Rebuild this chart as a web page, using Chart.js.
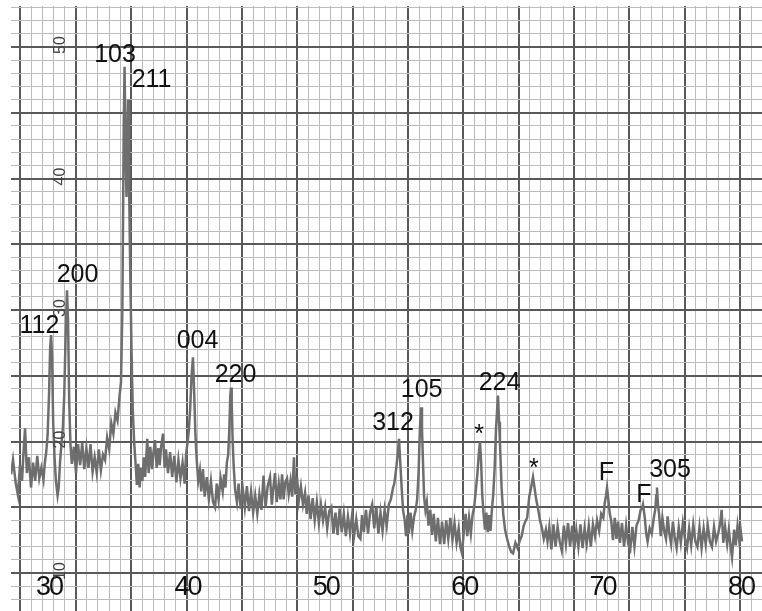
<!DOCTYPE html>
<html>
<head>
<meta charset="utf-8">
<title>XRD pattern</title>
<script src="https://cdn.jsdelivr.net/npm/chart.js@4.4.1/dist/chart.umd.min.js"></script>
<style>
  html, body { margin: 0; padding: 0; background: #fff; }
  #wrap { width: 762px; height: 611px; position: relative; }
</style>
</head>
<body>
<div id="wrap"><canvas id="xrd"></canvas></div>
<script>
// 2-theta (deg)
const twoTheta = [
  27.26, 27.4, 27.6, 27.76, 27.9, 28.05, 28.15, 28.27, 28.4, 28.55, 28.7, 28.85, 29.0, 29.15, 29.3, 29.45, 29.6, 29.7, 29.8, 29.9,
  30.0, 30.08, 30.15, 30.22, 30.3, 30.4, 30.5, 30.62, 30.7, 30.8, 30.9, 31.0, 31.1, 31.2, 31.3, 31.38, 31.46, 31.55, 31.65, 31.8,
  31.95, 32.1, 32.25, 32.4, 32.55, 32.7, 32.85, 33.0, 33.15, 33.3, 33.45, 33.6, 33.75, 33.9, 34.05, 34.2, 34.35, 34.5, 34.65, 34.8,
  34.95, 35.1, 35.2, 35.3, 35.4, 35.46, 35.53, 35.6, 35.65, 35.71, 35.78, 35.87, 35.96, 36.05, 36.15, 36.25, 36.35, 36.45, 36.55, 36.65,
  36.75, 36.85, 36.95, 37.1, 37.2, 37.32, 37.45, 37.55, 37.66, 37.78, 37.9, 38.0, 38.1, 38.24, 38.35, 38.45, 38.6, 38.75, 38.9, 39.05,
  39.2, 39.35, 39.5, 39.65, 39.8, 39.9, 40.0, 40.1, 40.2, 40.3, 40.4, 40.48, 40.58, 40.68, 40.78, 40.9, 41.0, 41.12, 41.25, 41.4,
  41.55, 41.7, 41.85, 42.0, 42.12, 42.25, 42.4, 42.55, 42.65, 42.75, 42.85, 42.95, 43.03, 43.1, 43.15, 43.2, 43.27, 43.35, 43.45, 43.58,
  43.7, 43.85, 44.0, 44.15, 44.3, 44.45, 44.6, 44.75, 44.9, 45.05, 45.2, 45.35, 45.5, 45.65, 45.8, 45.97, 46.1, 46.2, 46.33, 46.45,
  46.6, 46.72, 46.84, 46.95, 47.07, 47.2, 47.32, 47.45, 47.57, 47.7, 47.8, 47.92, 48.05, 48.2, 48.35, 48.5, 48.62, 48.75, 48.9, 49.05,
  49.2, 49.35, 49.5, 49.65, 49.8, 49.95, 50.1, 50.25, 50.4, 50.55, 50.7, 50.85, 51.0, 51.15, 51.3, 51.45, 51.6, 51.75, 51.9, 52.05,
  52.2, 52.35, 52.5, 52.62, 52.75, 52.9, 53.05, 53.2, 53.35, 53.5, 53.65, 53.8, 53.95, 54.1, 54.25, 54.4, 54.55, 54.7, 54.86, 54.95,
  55.07, 55.17, 55.29, 55.38, 55.48, 55.58, 55.7, 55.8, 55.9, 56.0, 56.12, 56.25, 56.38, 56.5, 56.6, 56.7, 56.8, 56.88, 56.95, 57.02,
  57.1, 57.2, 57.3, 57.42, 57.55, 57.68, 57.8, 57.95, 58.1, 58.25, 58.4, 58.55, 58.7, 58.85, 59.0, 59.15, 59.3, 59.45, 59.6, 59.72,
  59.84, 59.96, 60.1, 60.22, 60.35, 60.48, 60.6, 60.72, 60.85, 60.95, 61.05, 61.14, 61.22, 61.3, 61.4, 61.5, 61.6, 61.7, 61.8, 61.9,
  62.0, 62.1, 62.2, 62.3, 62.44, 62.52, 62.58, 62.7, 62.82, 62.95, 63.1, 63.25, 63.4, 63.53, 63.7, 63.85, 64.03, 64.15, 64.3, 64.45,
  64.55, 64.7, 64.85, 64.97, 65.08, 65.2, 65.35, 65.48, 65.62, 65.75, 65.9, 66.02, 66.15, 66.3, 66.45, 66.6, 66.75, 66.9, 67.05, 67.2,
  67.35, 67.5, 67.65, 67.8, 67.95, 68.1, 68.25, 68.4, 68.55, 68.7, 68.85, 69.0, 69.15, 69.3, 69.45, 69.6, 69.75, 69.9, 70.05, 70.15,
  70.25, 70.32, 70.42, 70.52, 70.62, 70.75, 70.88, 71.0, 71.12, 71.25, 71.4, 71.55, 71.7, 71.85, 72.0, 72.15, 72.3, 72.45, 72.6, 72.75,
  72.85, 72.92, 73.05, 73.15, 73.25, 73.4, 73.55, 73.7, 73.8, 73.88, 73.93, 74.0, 74.08, 74.2, 74.32, 74.45, 74.58, 74.7, 74.82, 74.95,
  75.08, 75.2, 75.35, 75.5, 75.65, 75.8, 75.95, 76.1, 76.25, 76.4, 76.55, 76.7, 76.85, 77.0, 77.15, 77.3, 77.45, 77.6, 77.75, 77.9,
  78.05, 78.2, 78.35, 78.5, 78.6, 78.72, 78.85, 79.0, 79.12, 79.25, 79.35, 79.5, 79.62, 79.75, 79.88, 79.98, 80.07
];

// intensity in the paper's own units (the 10..50 scale printed on the chart)
const intensity = [
  17.5, 18.6, 16.8, 15.9, 18.2, 17.0, 19.0, 21.0, 17.6, 18.8, 16.5, 18.4, 17.0, 18.9, 17.2, 18.0, 17.1, 18.4, 19.2, 20.5,
  23.5, 27.0, 28.1, 26.5, 21.5, 18.8, 17.0, 15.9, 16.5, 18.5, 19.8, 21.0, 23.5, 28.0, 31.5, 29.0, 23.0, 19.8, 18.3, 19.6,
  17.6, 19.8, 18.2, 19.9, 17.9, 19.5, 18.0, 19.8, 17.7, 18.8, 17.6, 19.4, 17.8, 19.0, 18.6, 20.3, 19.4, 21.4, 20.6, 22.2,
  21.6, 23.5, 24.5, 30.0, 44.0, 48.5, 42.0, 38.6, 42.0, 46.0, 40.0, 33.0, 27.0, 22.5, 20.0, 18.4, 16.7, 18.3, 16.5, 18.0,
  17.0, 18.8, 17.3, 20.2, 17.6, 19.6, 17.9, 19.2, 20.1, 18.0, 19.5, 18.2, 19.6, 20.6, 18.0, 19.4, 17.6, 19.2, 17.3, 18.9,
  16.9, 18.6, 17.2, 18.4, 16.8, 19.0, 19.8, 20.8, 22.5, 25.0, 26.4, 24.0, 20.5, 18.5, 17.0, 17.8, 16.2, 17.9, 15.8, 17.3,
  15.6, 17.0, 15.4, 15.0, 16.8, 15.6, 17.2, 16.2, 17.5, 16.5, 18.4, 19.0, 21.0, 23.5, 24.1, 23.0, 20.0, 18.0, 16.3, 15.4,
  16.8, 14.9, 16.4, 15.0, 16.6, 14.7, 16.2, 14.6, 15.9, 14.5, 16.0, 14.8, 17.4, 15.0, 16.6, 17.3, 15.2, 16.4, 17.6, 15.4,
  16.8, 15.6, 17.5, 15.6, 16.9, 17.2, 16.0, 17.0, 15.8, 18.8, 16.0, 17.3, 15.5, 16.6, 15.2, 16.1, 14.5, 15.9, 14.1, 15.7,
  14.0, 15.4, 13.8, 15.2, 14.0, 15.0, 13.4, 14.7, 15.0, 13.0, 14.6, 12.9, 14.9, 13.1, 14.5, 12.8, 14.3, 13.0, 14.4, 12.9,
  14.1, 12.8, 12.6, 14.4, 13.1, 14.8, 13.0, 14.6, 15.2, 13.4, 15.0, 13.0, 14.6, 13.2, 14.8, 13.6, 15.2, 15.6, 16.5, 16.8,
  17.8, 18.8, 20.2, 18.4, 16.5, 14.8, 14.0, 12.8, 14.4, 13.0, 14.6, 13.2, 14.3, 14.8, 15.6, 17.5, 21.0, 22.6, 21.0, 18.5,
  15.8, 14.8, 15.4, 13.6, 14.8, 12.9, 14.5, 12.4, 14.2, 12.2, 13.9, 12.2, 14.0, 12.6, 14.2, 12.5, 13.8, 12.3, 13.4, 12.0,
  11.5, 13.0, 14.5, 12.8, 14.2, 13.0, 14.4, 15.0, 16.4, 17.5, 19.0, 20.0, 18.5, 16.0, 14.5, 13.3, 14.6, 13.1, 14.4, 13.2,
  14.8, 16.0, 18.0, 21.0, 23.5, 21.5, 20.0, 16.5, 14.5, 13.3, 12.6, 12.0, 11.6, 11.5, 12.3, 11.9, 12.5, 12.8, 13.6, 14.0,
  14.2, 15.8, 16.6, 17.3, 16.5, 15.6, 14.8, 14.0, 13.4, 12.6, 13.3, 12.4, 13.5, 11.8, 13.7, 12.0, 13.5, 12.4, 11.7, 13.6,
  12.2, 13.8, 12.0, 13.6, 11.8, 13.3, 12.0, 13.7, 11.9, 13.4, 12.2, 13.6, 12.0, 13.7, 12.8, 14.0, 13.2, 14.5, 14.2, 15.3,
  15.9, 16.5, 15.5, 14.5, 14.0, 12.5, 14.2, 12.6, 13.9, 12.3, 13.8, 12.0, 13.6, 12.2, 11.8, 13.5, 12.0, 13.6, 14.0, 14.8,
  14.9, 15.2, 14.2, 13.0, 12.4, 13.4, 13.0, 14.2, 14.8, 15.9, 16.5, 15.2, 14.5, 12.8, 14.2, 13.2, 12.6, 14.3, 13.0, 12.2,
  13.9, 12.8, 11.9, 13.5, 12.3, 13.8, 12.6, 11.9, 13.4, 12.1, 13.7, 12.4, 12.0, 13.5, 11.9, 13.4, 12.2, 13.6, 12.4, 12.0,
  13.5, 12.4, 13.0, 13.8, 14.8, 12.3, 13.5, 12.2, 13.3, 12.0, 11.2, 13.3, 12.1, 13.6, 12.4, 13.2, 12.4
];

// reflection labels and where they sit (data units, text baseline)
const peakLabels = ['112', '200', '103', '211', '004', '220', '312', '105', '*', '224', '*', 'F', 'F', '305'];
const peakLabelX = [29.31, 32.06, 34.77, 37.41, 40.73, 43.48, 54.86, 56.92, 61.07, 62.55, 65.04, 70.28, 72.99, 74.87];
const peakLabelY = [28.25, 32.13, 48.86, 46.96, 27.11, 24.52, 20.87, 23.38, 19.96, 23.92, 17.34, 17.07, 15.40, 17.3];

// printed axis numbers
const xTickLabels = [30, 40, 50, 60, 70, 80];
const yTickLabels = [50, 40, 30, 20, 10];

// graph paper: vertical rule every 0.8 deg starting at 27.94, horizontal every unit
const X_MIN = 27.254, X_MAX = 81.517;
const Y_MIN = 7.11, Y_MAX = 53.12;
const PAPER_X0 = 27.94, PAPER_DX = 0.8;

const MAJOR = '#595959', MINOR = '#bcbcbc';

const paperText = {
  id: 'paperText',
  afterDatasetsDraw(chart) {
    const { ctx, scales: { x, y } } = chart;
    ctx.save();
    ctx.fillStyle = '#111';
    ctx.textAlign = 'center';
    ctx.textBaseline = 'alphabetic';
    ctx.font = '25px "Liberation Sans", Arial, sans-serif';
    peakLabels.forEach((t, i) => {
      ctx.fillText(t, x.getPixelForValue(peakLabelX[i]), y.getPixelForValue(peakLabelY[i]));
    });

    ctx.font = '27px "Liberation Sans", Arial, sans-serif';
    if ('letterSpacing' in ctx) ctx.letterSpacing = '-2px';
    xTickLabels.forEach(v => {
      ctx.fillText(String(v), x.getPixelForValue(v), y.getPixelForValue(8.33));
    });
    if ('letterSpacing' in ctx) ctx.letterSpacing = '0px';

    ctx.fillStyle = '#444';
    ctx.font = '16px "Liberation Sans", Arial, sans-serif';
    ctx.textBaseline = 'middle';
    yTickLabels.forEach(v => {
      ctx.save();
      ctx.translate(x.getPixelForValue(30.87), y.getPixelForValue(v + 0.15));
      ctx.rotate(-Math.PI / 2);
      ctx.fillText(String(v), 0, 0);
      ctx.restore();
    });
    ctx.restore();
  }
};

new Chart(document.getElementById('xrd'), {
  type: 'line',
  data: {
    datasets: [{
      data: twoTheta.map((t, i) => ({ x: t, y: intensity[i] })),
      borderColor: '#6e6e6e',
      borderWidth: 2.5,
      pointRadius: 0,
      tension: 0,
      fill: false,
    }],
  },
  options: {
    responsive: true,
    maintainAspectRatio: false,
    animation: false,
    layout: { padding: { left: 11, top: 6, right: 0, bottom: 0 } },
    plugins: {
      legend: { display: false },
      tooltip: { enabled: false },
    },
    scales: {
      x: {
        type: 'linear',
        min: X_MIN,
        max: X_MAX,
        afterBuildTicks: scale => {
          const ticks = [];
          for (let v = PAPER_X0; v < X_MAX; v += PAPER_DX) ticks.push({ value: v });
          scale.ticks = ticks;
        },
        afterFit: scale => { scale.height = 0; },
        ticks: { display: false },
        border: { display: false },
        grid: {
          drawTicks: false,
          color: c => (c.index % 5 === 0 ? MAJOR : MINOR),
          lineWidth: c => (c.index % 5 === 0 ? 2 : 1),
        },
      },
      y: {
        min: Y_MIN,
        max: Y_MAX,
        afterBuildTicks: scale => {
          const ticks = [];
          for (let v = 8; v <= 53; v++) ticks.push({ value: v });
          scale.ticks = ticks;
        },
        afterFit: scale => { scale.width = 0; },
        ticks: { display: false },
        border: { display: false },
        grid: {
          drawTicks: false,
          color: c => (c.tick && c.tick.value % 5 === 0 ? MAJOR : MINOR),
          lineWidth: c => (c.tick && c.tick.value % 5 === 0 ? 2 : 1),
        },
      },
    },
  },
  plugins: [paperText],
});
</script>
</body>
</html>
